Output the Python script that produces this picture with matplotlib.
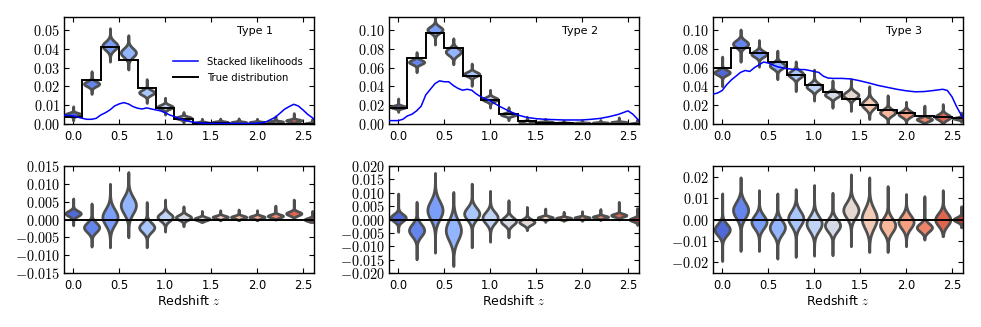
import numpy as np
import matplotlib
matplotlib.use("Agg")
from matplotlib import pyplot as plt
from matplotlib.ticker import FuncFormatter, MultipleLocator

plt.rcParams['mathtext.fontset'] = 'cm'
plt.rcParams['font.family'] = 'DejaVu Sans'

# redshift bins (centres) and edges
z_bins = np.round(np.arange(0.0, 2.61, 0.2), 1)
z_edges = np.round(np.arange(-0.1, 2.71, 0.2), 1)

# true n(z) per type
true_1 = [0.0035, 0.0236, 0.041, 0.034, 0.019, 0.0084, 0.0027, 0.0004,
          0.0003, 0.0002, 0.0002, 0.0002, 0.0002, 0.0002]
true_2 = [0.0175, 0.070, 0.097, 0.081, 0.051, 0.0257, 0.0107, 0.003,
          0.0014, 0.0006, 0.0005, 0.0004, 0.0004, 0.0004]
true_3 = [0.0596, 0.081, 0.0757, 0.066, 0.0525, 0.0418, 0.034, 0.0264,
          0.0205, 0.015, 0.0118, 0.0087, 0.0075, 0.006]

# residuals (estimate - true): body centre, body half height, tail low, tail high
res_mid_1 = [0.0017, -0.0022, 0.0007, 0.004, -0.0022, 0.0007, 0.0006, 0.0002,
             0.0007, 0.0007, 0.0007, 0.001, 0.0017, 0.0]
res_half_1 = [0.0014, 0.0025, 0.0042, 0.0044, 0.0025, 0.002, 0.0013, 0.0008,
              0.0007, 0.0007, 0.0007, 0.0008, 0.001, 0.0008]
res_lo_1 = [-0.0016, -0.0076, -0.0078, -0.005, -0.0078, -0.0034, -0.0019, -0.0007,
            -0.0002, -0.0002, -0.0002, 0.0, 0.0002, -0.0007]
res_hi_1 = [0.0059, 0.0045, 0.010, 0.0133, 0.0049, 0.0056, 0.0037, 0.0024,
            0.0026, 0.0028, 0.0026, 0.0039, 0.0056, 0.0024]

res_mid_2 = [0.0007, -0.004, 0.0035, -0.004, 0.0022, 0.0007, -0.0006, -0.0009,
             0.0007, 0.0005, 0.0007, 0.001, 0.0016, 0.0]
res_half_2 = [0.0025, 0.0043, 0.0065, 0.0071, 0.0043, 0.004, 0.0027, 0.0019,
              0.0009, 0.0007, 0.0007, 0.0008, 0.001, 0.0012]
res_lo_2 = [-0.0046, -0.0149, -0.0124, -0.0174, -0.0104, -0.0083, -0.0067, -0.004,
            -0.0009, -0.0005, -0.0005, -0.0002, 0.0, -0.002]
res_hi_2 = [0.0097, 0.0066, 0.0174, 0.0103, 0.0134, 0.0107, 0.0072, 0.0047,
            0.0041, 0.0029, 0.0031, 0.0039, 0.0066, 0.0043]

res_mid_3 = [-0.0047, 0.0044, -0.0011, -0.0037, 0.0005, -0.0019, -0.0027, 0.0044,
             0.0005, -0.0027, -0.0011, -0.0037, 0.0, 0.0]
res_half_3 = [0.005, 0.007, 0.0058, 0.0062, 0.0066, 0.0066, 0.0055, 0.0066,
              0.0086, 0.0062, 0.0058, 0.0035, 0.0055, 0.002]
res_lo_3 = [-0.0194, -0.0147, -0.0147, -0.0183, -0.0175, -0.0169, -0.0167, -0.0125,
            -0.0152, -0.0152, -0.0125, -0.0094, -0.0078, -0.0037]
res_hi_3 = [0.0122, 0.0197, 0.0137, 0.0122, 0.0142, 0.0161, 0.0125, 0.0211,
            0.0197, 0.0156, 0.0119, 0.0109, 0.0137, 0.0062]

# stacked likelihood curves
stack_z_1 = [-0.105, 0.0, 0.1, 0.15, 0.2, 0.25, 0.3, 0.35, 0.4, 0.45, 0.5, 0.55, 0.6,
             0.65, 0.7, 0.75, 0.8, 0.85, 0.9, 0.95, 1.0, 1.05, 1.1, 1.2, 1.3, 1.4,
             1.5, 1.7, 1.9, 2.0, 2.05, 2.1, 2.2, 2.3, 2.35, 2.4, 2.45, 2.5, 2.55, 2.62]
stack_1 = [0.0048, 0.0043, 0.003, 0.0025, 0.0025, 0.003, 0.0048, 0.006, 0.0075,
           0.0096, 0.0107, 0.0114, 0.0107, 0.0093, 0.0084, 0.008, 0.0086, 0.008,
           0.0075, 0.007, 0.006, 0.0048, 0.004, 0.0021, 0.001, 0.0005,
           0.0003, 0.0003, 0.0003, 0.0004, 0.0007, 0.0012, 0.0036, 0.0079, 0.0093,
           0.0105, 0.0096, 0.0075, 0.0052, 0.0027]

stack_z_2 = [-0.1, 0.0, 0.05, 0.1, 0.15, 0.2, 0.25, 0.3, 0.35, 0.4, 0.45, 0.5, 0.55,
             0.6, 0.65, 0.7, 0.75, 0.8, 0.85, 0.9, 1.0, 1.1, 1.2, 1.3, 1.4, 1.5,
             1.6, 1.8, 2.0, 2.1, 2.2, 2.3, 2.4, 2.5, 2.55, 2.62]
stack_2 = [0.0036, 0.0036, 0.005, 0.0086, 0.0104, 0.014, 0.019, 0.031, 0.037, 0.043,
           0.046, 0.045, 0.045, 0.041, 0.038, 0.036, 0.037, 0.036, 0.032, 0.029,
           0.0246, 0.019, 0.014, 0.0096, 0.007, 0.0057, 0.005, 0.0043, 0.0043,
           0.005, 0.006, 0.0079, 0.0104, 0.014, 0.0107, 0.0036]

stack_z_3 = [-0.1, -0.05, 0.0, 0.05, 0.1, 0.15, 0.2, 0.25, 0.3, 0.35, 0.4, 0.45, 0.5,
             0.55, 0.6, 0.7, 0.8, 0.9, 1.0, 1.05, 1.1, 1.15, 1.2, 1.3, 1.4, 1.5,
             1.6, 1.7, 1.8, 1.9, 2.0, 2.1, 2.2, 2.3, 2.4, 2.45, 2.5, 2.55, 2.6, 2.62]
stack_3 = [0.0318, 0.033, 0.0357, 0.042, 0.047, 0.051, 0.055, 0.057, 0.056, 0.06,
           0.063, 0.066, 0.065, 0.063, 0.061, 0.059, 0.058, 0.058, 0.056, 0.055,
           0.051, 0.049, 0.0486, 0.0486, 0.048, 0.046, 0.0436, 0.041, 0.039, 0.037,
           0.0354, 0.0343, 0.0346, 0.0357, 0.037, 0.0357, 0.029, 0.0186, 0.0096,
           0.0068]

panels = [
    ("Type 1", true_1, res_mid_1, res_half_1, res_lo_1, res_hi_1, stack_z_1, stack_1),
    ("Type 2", true_2, res_mid_2, res_half_2, res_lo_2, res_hi_2, stack_z_2, stack_2),
    ("Type 3", true_3, res_mid_3, res_half_3, res_lo_3, res_hi_3, stack_z_3, stack_3),
]
top_ylims = [(0, 0.057), (0, 0.114), (0, 0.114)]
top_steps = [0.01, 0.02, 0.02]
bot_ylims = [(-0.015, 0.015), (-0.02, 0.02), (-0.025, 0.025)]
bot_steps = [0.005, 0.005, 0.01]
top_fmt = ['${:.2f}$', '${:.2f}$', '${:.2f}$']
bot_fmt = ['${:.3f}$', '${:.3f}$', '${:.2f}$']

colors = plt.cm.coolwarm(np.linspace(0, 1, 16)[1:-1])
edge = '#4f4f4f'


def violin_stats(mids, halves, los, his, shift):
    stats = []
    for m, h, lo, hi, s in zip(mids, halves, los, his, shift):
        coords = np.linspace(lo, hi, 300) + s
        sig = h / 1.9
        vals = np.exp(-0.5 * ((coords - m - s) / sig) ** 2) + 1e-4
        stats.append(dict(coords=coords, vals=vals, mean=m + s, median=m + s,
                          min=lo + s, max=hi + s))
    return stats


def draw_violins(ax, stats):
    parts = ax.violin(stats, positions=z_bins, widths=0.165, showmeans=False,
                      showextrema=False, showmedians=False)
    for body, c in zip(parts['bodies'], colors):
        body.set_facecolor(c)
        body.set_edgecolor(edge)
        body.set_linewidth(2.0)
        body.set_alpha(1)
        body.set_zorder(2)


def style_axes(ax):
    ax.set_xlim(-0.1, 2.62)
    ax.xaxis.set_major_locator(MultipleLocator(0.5))
    ax.tick_params(direction='in', top=True, right=True, length=3.5, width=0.8,
                   labelsize=10.3, pad=3)
    ax.tick_params(axis='x', labelsize=8.3, pad=4)
    for sp in ax.spines.values():
        sp.set_linewidth(1.0)


fig = plt.figure(figsize=(9.81, 3.27), dpi=100)
lefts = [64 / 981, 389 / 981, 713 / 981]
w = 250 / 981
h = 107 / 327

for i, (name, true, mid, half, lo, hi, sz, sv) in enumerate(panels):
    ax = fig.add_axes([lefts[i], 1 - 124 / 327, w, h])
    draw_violins(ax, violin_stats(mid, half, lo, hi, true))
    ax.stairs(true, z_edges, color='k', lw=1.4, zorder=3, label='True distribution')
    ax.plot(sz, sv, color='#0000ff', lw=1.1, zorder=4, label='Stacked likelihoods')
    ax.set_ylim(*top_ylims[i])
    ax.yaxis.set_major_locator(MultipleLocator(top_steps[i]))
    ax.yaxis.set_major_formatter(FuncFormatter(lambda v, p, f=top_fmt[i]: f.format(v)))
    style_axes(ax)
    ax.text(0.835, 0.87, name, transform=ax.transAxes, ha='right', va='center',
            fontsize=8)
    if i == 0:
        hnd, lab = ax.get_legend_handles_labels()
        ax.legend(hnd[::-1], lab[::-1], loc='center left', bbox_to_anchor=(0.40, 0.505),
                  frameon=False, fontsize=7.2, handlelength=2.5, labelspacing=0.6,
                  handletextpad=0.9)

    axb = fig.add_axes([lefts[i], 1 - 273 / 327, w, h])
    draw_violins(axb, violin_stats(mid, half, lo, hi, np.zeros(len(mid))))
    axb.axhline(0, color='k', lw=1.4, zorder=3)
    axb.set_ylim(*bot_ylims[i])
    axb.yaxis.set_major_locator(MultipleLocator(bot_steps[i]))
    axb.yaxis.set_major_formatter(FuncFormatter(lambda v, p, f=bot_fmt[i]: f.format(v)))
    style_axes(axb)
    axb.set_xlabel('Redshift $z$', fontsize=9, labelpad=2)

fig.savefig('out.png', dpi=100)
